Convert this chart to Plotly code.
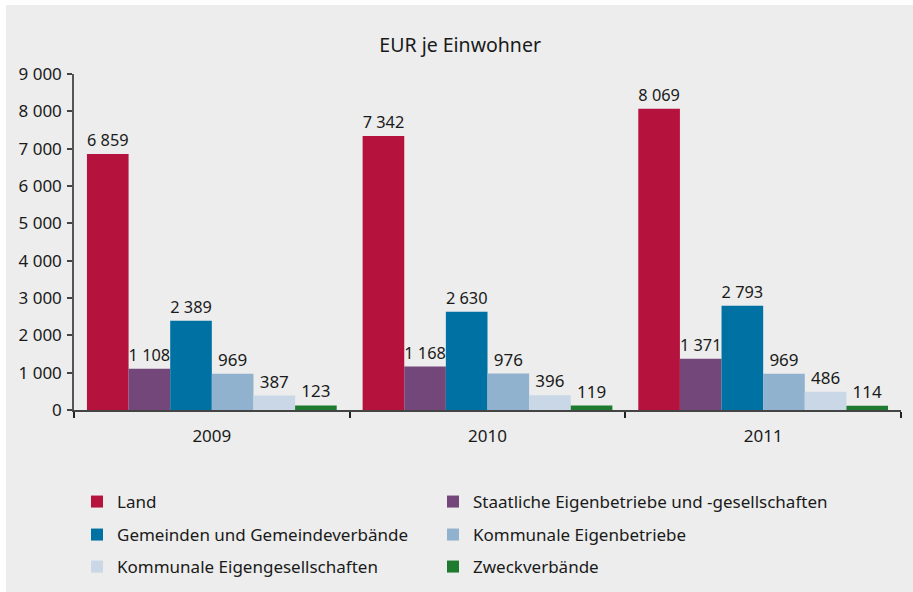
import plotly.graph_objects as go

years = ["2009", "2010", "2011"]

land = [6859, 7342, 8069]
staatliche = [1108, 1168, 1371]
gemeinden = [2389, 2630, 2793]
komm_betriebe = [969, 976, 969]
komm_gesellschaften = [387, 396, 486]
zweckverbaende = [123, 119, 114]

series_names = [
    "Land",
    "Staatliche Eigenbetriebe und -gesellschaften",
    "Gemeinden und Gemeindeverbände",
    "Kommunale Eigenbetriebe",
    "Kommunale Eigengesellschaften",
    "Zweckverbände",
]
series_values = [land, staatliche, gemeinden, komm_betriebe,
                 komm_gesellschaften, zweckverbaende]
series_colors = ["#B5133E", "#74477A", "#0071A3", "#91B2CF", "#C9D7E6", "#1E7A2E"]

FONT = "Noto Sans"
TXT = "#1a1a1a"
BG = "#ECEDEC"

W, H = 913, 592
ML, MR, MT, MB = 74, 12, 74, 182
pw, ph = W - ML - MR, H - MT - MB


def px_x(x):
    return (x - ML) / pw


def px_y(y):
    return (H - MB - y) / ph


# legend entries laid out in two columns, three rows (pixel anchors)
legend_cols = [77, 433]
legend_rows = [502, 535, 567]

fig = go.Figure()
legends = {}
for i, (name, vals, color) in enumerate(zip(series_names, series_values, series_colors)):
    key = "legend" if i == 0 else f"legend{i + 1}"
    fig.add_trace(go.Bar(
        name=name,
        x=years,
        y=vals,
        marker=dict(color=color, line=dict(width=0)),
        texttemplate="%{y:,d}",
        textposition="outside",
        textfont=dict(family=FONT, size=17, color=TXT),
        cliponaxis=False,
        showlegend=True,
        legend=key,
    ))
    legends[key] = dict(
        x=px_x(legend_cols[i % 2]),
        y=px_y(legend_rows[i // 2]),
        xanchor="left",
        yanchor="middle",
        orientation="h",
        bgcolor="rgba(0,0,0,0)",
        font=dict(family=FONT, size=17, color=TXT),
        itemclick=False,
        itemdoubleclick=False,
        visible=True,
    )

fig.update_layout(
    width=W,
    height=H,
    showlegend=True,
    margin=dict(l=ML, r=MR, t=MT, b=MB, pad=0, autoexpand=False),
    paper_bgcolor="white",
    plot_bgcolor="rgba(0,0,0,0)",
    separators=", ",
    font=dict(family=FONT, size=17, color=TXT),
    barmode="group",
    bargap=0.094,
    bargroupgap=0,
    title=dict(
        text="EUR je Einwohner",
        x=0.504, xref="container", xanchor="center",
        y=1 - 45 / H, yref="container", yanchor="middle",
        font=dict(family=FONT, size=19.5, color=TXT),
    ),
    xaxis=dict(
        type="category",
        showline=True, linecolor="#444", linewidth=1.5,
        ticks="outside", tickson="boundaries", ticklen=6, tickwidth=1.5, tickcolor="#222",
        ticklabelstandoff=10,
        showgrid=False, zeroline=False,
        tickfont=dict(family=FONT, size=17, color=TXT),
    ),
    yaxis=dict(
        range=[0, 9000], dtick=1000, tick0=0,
        tickformat=",d",
        showline=True, linecolor="#555", linewidth=1.5,
        ticks="outside", ticklen=5, tickwidth=1.5, tickcolor="#444",
        ticklabelstandoff=2,
        showgrid=False, zeroline=False,
        tickfont=dict(family=FONT, size=17, color=TXT),
    ),
    shapes=[
        dict(
            type="rect", layer="below",
            xref="paper", yref="paper",
            x0=px_x(6), x1=px_x(W + 2),
            y0=px_y(H + 2), y1=px_y(5),
            fillcolor=BG, line=dict(width=0),
        )
    ],
    **legends,
)

fig.write_html("out.html")
